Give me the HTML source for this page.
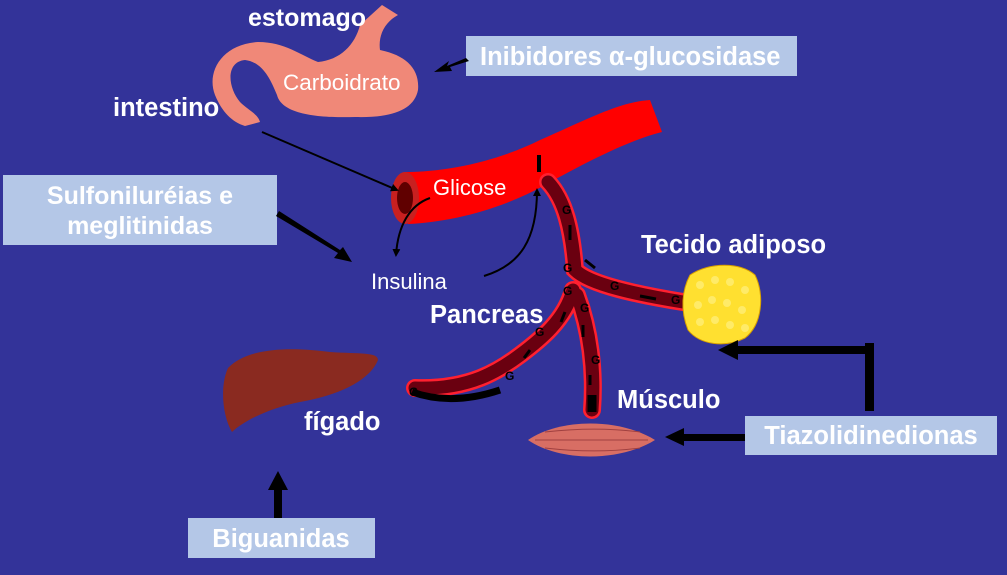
<!DOCTYPE html>
<html><head><style>
body{margin:0;width:1007px;height:575px;background:#333399;overflow:hidden;font-family:"Liberation Sans",sans-serif}
svg{position:absolute;left:0;top:0}
.b{font-weight:bold;fill:#fff}
</style></head><body>
<svg width="1007" height="575" viewBox="0 0 1007 575">
<defs>
<marker id="a" markerWidth="8" markerHeight="8" refX="6" refY="4" orient="auto" markerUnits="userSpaceOnUse"><path d="M0,0L8,4L0,8z" fill="#000"/></marker>
</defs>
<rect width="1007" height="575" fill="#333399"/>
<!-- stomach -->
<path d="M245,126 C232,122 222,112 215,95 C206,72 222,44 258,42 C285,42 300,55 318,62 C340,60 355,45 360,25 L382,5 L398,15 C385,22 378,35 380,50 C405,55 420,68 418,90 C414,110 392,118 355,117 C320,118 282,115 277,95 C270,78 262,62 245,60 C225,62 228,88 240,102 C248,110 258,114 260,122 Z" fill="#f08878"/>
<text x="283" y="90" font-size="22.5" fill="#fff">Carboidrato</text>
<text x="248" y="26" font-size="25" class="b">estomago</text>
<text x="113" y="116" font-size="25.5" class="b">intestino</text>
<!-- vessel -->
<path d="M404,172 C450,172 500,160 540,140 C590,118 620,102 650,100 L662,132 C630,140 590,160 545,185 C500,210 450,222 408,224 Z" fill="#ff0000"/>
<ellipse cx="405" cy="198" rx="14" ry="26" fill="#c82020"/>
<ellipse cx="405" cy="198" rx="8" ry="16" fill="#600000"/>
<text x="433" y="195" font-size="22" fill="#fff">Glicose</text>
<rect x="537" y="155" width="4" height="17" fill="#000"/>
<!-- branches -->
<g fill="none" stroke-linecap="round">
<g stroke="#ff2030" stroke-width="18">
<path d="M548,182 C565,200 572,230 575,270 C590,285 640,295 683,302"/>
<path d="M573,290 C565,320 540,340 520,355 C500,370 470,390 415,388"/>
<path d="M577,295 C590,330 595,370 592,410"/>
</g>
<g stroke="#6a0010" stroke-width="13">
<path d="M548,182 C565,200 572,230 575,270 C590,285 640,295 683,302"/>
<path d="M573,290 C565,320 540,340 520,355 C500,370 470,390 415,388"/>
<path d="M577,295 C590,330 595,370 592,410"/>
</g>
</g>
<path d="M412,392 C440,402 470,400 500,390" stroke="#000" stroke-width="7" fill="none"/>
<path d="M592,395 L592,412" stroke="#000" stroke-width="9"/>
<g font-size="12" font-weight="bold" fill="#000">
<text x="562" y="214">G</text><text x="563" y="272">G</text><text x="563" y="295">G</text><text x="580" y="312">G</text>
<text x="610" y="290">G</text><text x="671" y="304">G</text><text x="535" y="336">G</text><text x="505" y="380">G</text>
<text x="591" y="364">G</text><text x="409" y="396">G</text>
</g>
<g stroke="#000" stroke-width="3">
<path d="M570,225v15M585,260l10,8M640,296l16,3M583,325v12M565,312l-4,10M530,350l-6,8M590,375v10"/>
</g>
<!-- adipose -->
<path d="M690,275 C710,262 740,262 755,275 C765,295 762,325 745,338 C725,348 700,345 688,330 C680,310 682,290 690,275 Z" fill="#ffe030" stroke="#d8a000"/>
<g fill="#fff080" opacity=".7">
<circle cx="700" cy="285" r="4"/><circle cx="715" cy="280" r="4"/><circle cx="730" cy="282" r="4"/><circle cx="745" cy="290" r="4"/>
<circle cx="698" cy="305" r="4"/><circle cx="712" cy="300" r="4"/><circle cx="727" cy="303" r="4"/><circle cx="742" cy="310" r="4"/>
<circle cx="700" cy="322" r="4"/><circle cx="715" cy="320" r="4"/><circle cx="730" cy="325" r="4"/><circle cx="745" cy="328" r="4"/>
</g>
<text x="641" y="253" font-size="25.5" class="b">Tecido adiposo</text>
<!-- muscle -->
<path d="M528,440 C560,418 620,418 655,440 C620,462 560,462 528,440 Z" fill="#d86e64"/>
<g stroke="#a04040" stroke-width="1" fill="none"><path d="M535,440H648M545,432C580,428 610,428 640,432M545,448C580,452 610,452 640,448"/></g>
<text x="617" y="408" font-size="25.5" class="b">Músculo</text>
<!-- liver -->
<path d="M228,368 C250,345 300,348 330,352 C360,354 378,352 378,360 C370,380 340,395 300,402 C270,408 245,420 232,432 C222,415 220,385 228,368 Z" fill="#8a2a20"/>
<text x="304" y="430" font-size="25.5" class="b">fígado</text>
<text x="430" y="323" font-size="25.5" class="b">Pancreas</text>
<text x="371" y="289" font-size="22" fill="#fff">Insulina</text>
<!-- thin arrows -->
<g stroke="#000" stroke-width="2" fill="none">
<path d="M262,132 L397,190" marker-end="url(#a)"/>
<path d="M430,198 C410,205 398,225 396,255" marker-end="url(#a)"/>
<path d="M484,276 C520,265 537,240 537,190" marker-end="url(#a)"/>
</g>
<!-- boxes -->
<g fill="#b4c7e7">
<rect x="466" y="36" width="331" height="40"/>
<rect x="3" y="175" width="274" height="70"/>
<rect x="745" y="416" width="252" height="39"/>
<rect x="188" y="518" width="187" height="40"/>
</g>
<text x="480" y="65" font-size="25.5" class="b">Inibidores α-glucosidase</text>
<text x="140" y="204" font-size="25" class="b" text-anchor="middle">Sulfoniluréias e</text>
<text x="140" y="234" font-size="25" class="b" text-anchor="middle">meglitinidas</text>
<text x="871" y="444" font-size="25.5" class="b" text-anchor="middle">Tiazolidinedionas</text>
<text x="281" y="547" font-size="25.5" class="b" text-anchor="middle">Biguanidas</text>
<!-- thick arrows -->
<g fill="#000">
<path d="M466,58 L447,66 L449,61 L434,72 L452,71 L450,67 L469,61 Z"/>
<path d="M276,216 L338,253 L334,258 L352,262 L343,247 L340,250 L279,211 Z"/>
<rect x="865" y="343" width="9" height="68"/>
<rect x="734" y="346" width="140" height="8"/>
<path d="M718,350 L738,340 L738,360 Z"/>
<rect x="680" y="434" width="65" height="7"/>
<path d="M665,437 L684,428 L684,446 Z"/>
<rect x="274" y="488" width="8" height="30"/>
<path d="M278,471 L268,490 L288,490 Z"/>
</g>
</svg>
</body></html>
